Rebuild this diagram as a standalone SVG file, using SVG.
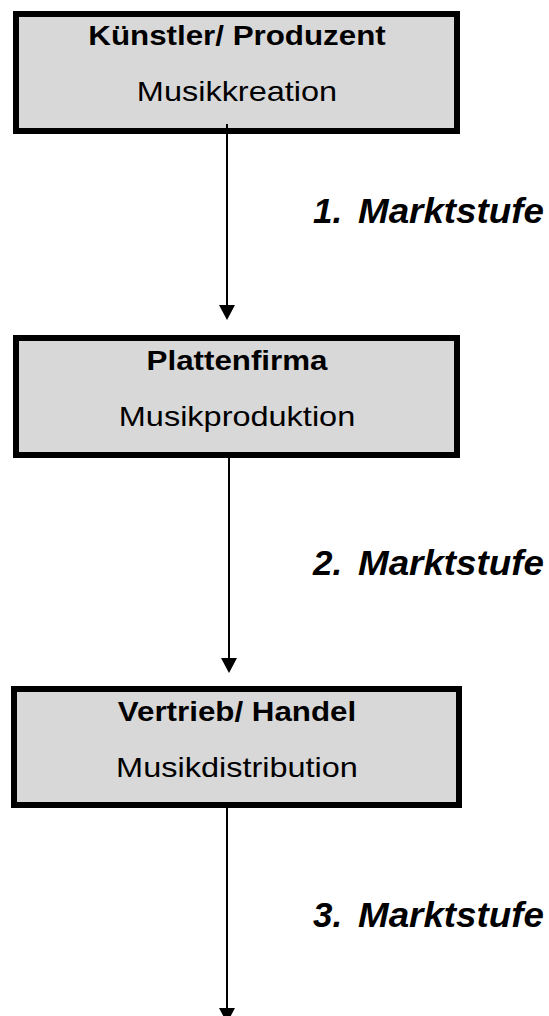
<svg xmlns="http://www.w3.org/2000/svg" width="549" height="1016" viewBox="0 0 549 1016">
<defs>
<style>
.box{fill:#d8d8d8;stroke:#000;stroke-width:6}
.t{font-family:"Liberation Sans",Arial,sans-serif;font-size:27px;font-weight:bold;text-anchor:middle;fill:#000}
.s{font-family:"Liberation Sans",Arial,sans-serif;font-size:28px;text-anchor:middle;fill:#000}
.m{font-family:"Liberation Sans",Arial,sans-serif;font-size:35px;font-weight:bold;font-style:italic;fill:#000}
.c{stroke:#000;stroke-width:2;fill:none}
.ah{fill:#000}
</style>
</defs>
<g id="node1">
<rect class="box" x="16" y="14" width="441" height="117"/>
<g transform="translate(237,0) scale(1.16,1)">
<text class="t" x="0" y="45">Künstler/ Produzent</text>
<text class="s" x="0" y="101">Musikkreation</text>
</g>
</g>
<g id="node2">
<rect class="box" x="16" y="338" width="441" height="117"/>
<g transform="translate(237,0) scale(1.16,1)">
<text class="t" x="0" y="370">Plattenfirma</text>
<text class="s" x="0" y="426">Musikproduktion</text>
</g>
</g>
<g id="node3">
<rect class="box" x="14" y="689" width="445" height="116"/>
<g transform="translate(237,0) scale(1.16,1)">
<text class="t" x="0" y="721">Vertrieb/ Handel</text>
<text class="s" x="0" y="777">Musikdistribution</text>
</g>
</g>
<g id="connectors">
<line class="c" x1="227" y1="124" x2="227" y2="306"/>
<polygon class="ah" points="219,305 235,305 227,320"/>
<line class="c" x1="229" y1="452" x2="229" y2="659"/>
<polygon class="ah" points="221,658 237,658 229,673"/>
<line class="c" x1="227" y1="803" x2="227" y2="1009"/>
<polygon class="ah" points="219,1008 235,1008 227,1023"/>
</g>
<g id="labels">
<text class="m" x="313" y="223">1.</text>
<text class="m" x="358" y="223" textLength="186" lengthAdjust="spacingAndGlyphs">Marktstufe</text>
<text class="m" x="313" y="575">2.</text>
<text class="m" x="358" y="575" textLength="186" lengthAdjust="spacingAndGlyphs">Marktstufe</text>
<text class="m" x="313" y="927">3.</text>
<text class="m" x="358" y="927" textLength="186" lengthAdjust="spacingAndGlyphs">Marktstufe</text>
</g>
</svg>
